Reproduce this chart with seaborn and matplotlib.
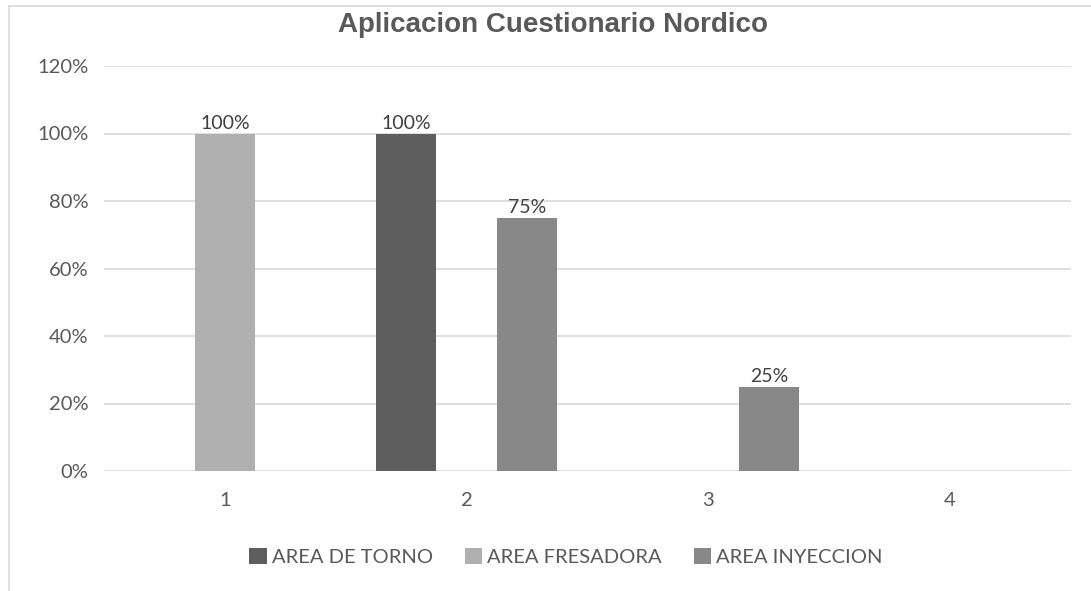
import seaborn as sns
import matplotlib.pyplot as plt
import pandas as pd
from matplotlib.ticker import PercentFormatter
from matplotlib.patches import Rectangle

# datos
categorias = ["1", "2", "3", "4"]
series = ["AREA DE TORNO", "AREA FRESADORA", "AREA INYECCION"]
torno = [0, 1.00, 0, 0]
fresadora = [1.00, 0, 0, 0]
inyeccion = [0, 0.75, 0.25, 0]
colores = ["#5e5e5e", "#b0b0b0", "#888888"]

df = pd.DataFrame({"cat": categorias,
                   series[0]: torno,
                   series[1]: fresadora,
                   series[2]: inyeccion})
df = df.melt(id_vars="cat", var_name="serie", value_name="valor")

sns.set_theme(style="white")
plt.rcParams['font.family'] = ['Lato', 'DejaVu Sans']

fig = plt.figure(figsize=(10.91, 5.91), dpi=100)
ax = fig.add_axes([104/1091, 1-471/591, (1071-104)/1091, (471-66)/591])

sns.barplot(data=df, x="cat", y="valor", hue="serie", hue_order=series,
            order=categorias, palette=dict(zip(series, colores)),
            width=0.75, linewidth=0, saturation=1, ax=ax)

# etiquetas solo para valores distintos de cero
for cont, vals in zip(ax.containers, [torno, fresadora, inyeccion]):
    labs = [f"{v:.0%}" if v > 0 else "" for v in vals]
    ax.bar_label(cont, labels=labs, padding=1, fontsize=14, color="#404040")

ax.set_ylim(0, 1.2)
ax.set_yticks([0, 0.2, 0.4, 0.6, 0.8, 1.0, 1.2])
ax.yaxis.set_major_formatter(PercentFormatter(1.0, decimals=0))
ax.grid(axis="y", color="#d9d9d9", linewidth=1.2)
ax.set_axisbelow(True)
sns.despine(ax=ax, left=True, bottom=True)
ax.tick_params(length=0, labelsize=14.5, colors="#595959")
ax.tick_params(axis="y", pad=11)
ax.tick_params(axis="x", pad=15)
ax.set_xlabel("")
ax.set_ylabel("")

handles, labels = ax.get_legend_handles_labels()
ax.legend_.remove()
fig.legend(handles, labels, loc="center", bbox_to_anchor=(566/1091, 1-557/591),
           ncol=3, frameon=False, handlelength=0.85, handleheight=0.85,
           handletextpad=0.25, columnspacing=1.6, fontsize=14.5,
           labelcolor="#595959")

fig.text(553/1091, 1-32/591, "Aplicacion Cuestionario Nordico", ha="center",
         va="baseline", fontsize=20, fontweight="bold", color="#595959",
         family=["Liberation Sans", "DejaVu Sans"])

# borde del area del grafico
fig.patches.append(Rectangle((9/1091, -0.1), 2, 1.1 - 6/591, fill=False,
                             edgecolor="#d9d9d9", linewidth=1.2,
                             transform=fig.transFigure, figure=fig))

fig.savefig("out.png", dpi=100)
